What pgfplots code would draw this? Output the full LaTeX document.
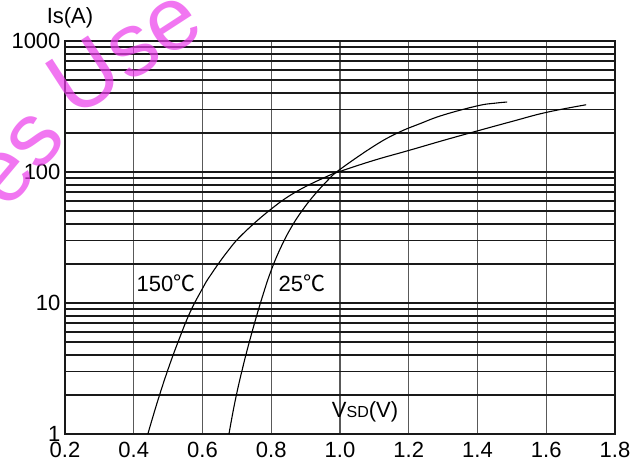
\documentclass[border=0pt]{standalone}
\usepackage{pgfplots}
\pgfplotsset{compat=1.18}
\usepackage{fontspec}
\setmainfont{Liberation Sans}
\newfontfamily\cjk{Noto Sans CJK SC}
\usetikzlibrary{calc}
\definecolor{wm}{RGB}{235,60,235}
\begin{document}
\begin{tikzpicture}
\begin{axis}[
  scale only axis, width=550pt, height=393pt,
  xmin=0.2, xmax=1.8, ymin=1, ymax=1000, ymode=log,
  xtick={0.2,0.4,0.6,0.8,1.0,1.2,1.4,1.6,1.8},
  xticklabels={0.2,0.4,0.6,0.8,1.0,1.2,1.4,1.6,1.8},
  ytick={1,10,100,1000}, yticklabels={1,10,100,1000},
  tick label style={font=\fontsize{22}{24}\selectfont},
  xticklabel style={yshift=-5pt},
  yticklabel style={xshift=-1pt},
  /pgf/number format/assume math mode=true,
  major tick length=0pt, minor tick length=0pt,
  xmajorgrids, ymajorgrids, yminorgrids,
  grid style={}, major grid style={}, minor grid style={},
  x grid style={black!65, line width=1.3pt},
  y grid style={black!90, line width=1.9pt},
  axis line style={black!90, line width=2pt},
  clip=false,
]
\addplot[black, line width=1.1pt, smooth, tension=0.7] coordinates {
(0.441,1) (0.47,1.80) (0.50,3.13) (0.53,5.13) (0.564,8.51) (0.60,12.9)
(0.622,16.1) (0.671,24.4) (0.718,33.8) (0.80,52.2) (0.875,71.3) (0.966,93.5)
(1.0,101) (1.1,123) (1.2,146) (1.3,174) (1.4,206) (1.5,243) (1.6,285) (1.716,326)
};
\addplot[black, line width=1.1pt, smooth, tension=0.7] coordinates {
(0.677,1) (0.695,1.79) (0.718,3.29) (0.745,6.12) (0.773,10.9) (0.80,17.8)
(0.83,27.3) (0.86,38.5) (0.89,50.8) (0.92,64.3) (0.95,79) (0.968,88.5)
(1.0,104.7) (1.1,158.5) (1.169,199.5) (1.233,234) (1.3,272) (1.4,320)
(1.45,335) (1.486,342)
};
\node[font=\fontsize{22}{24}\selectfont] at (axis cs:0.2145,1500) {Is(A)};
\node[font=\fontsize{22}{24}\selectfont] at (axis cs:0.494,14.2) {150{\cjk ℃}};
\node[font=\fontsize{22}{24}\selectfont] at (axis cs:0.889,14.2) {25{\cjk ℃}};
\node[font=\fontsize{22}{24}\selectfont] at (axis cs:1.073,1.47) {V{\fontsize{16}{18}\selectfont SD}(V)};
\node[overlay, rotate=50, text=wm, opacity=0.7, font=\fontsize{90}{96}\selectfont] at (axis cs:0.069,124) {es};
\node[overlay, rotate=33, text=wm, opacity=0.7, font=\fontsize{90}{96}\selectfont] at (axis cs:0.372,853) {Use};
\end{axis}
\path ($(current axis.south west)+(-65pt,-30pt)$) rectangle ($(current axis.north east)+(26pt,41pt)$);
\end{tikzpicture}
\end{document}
